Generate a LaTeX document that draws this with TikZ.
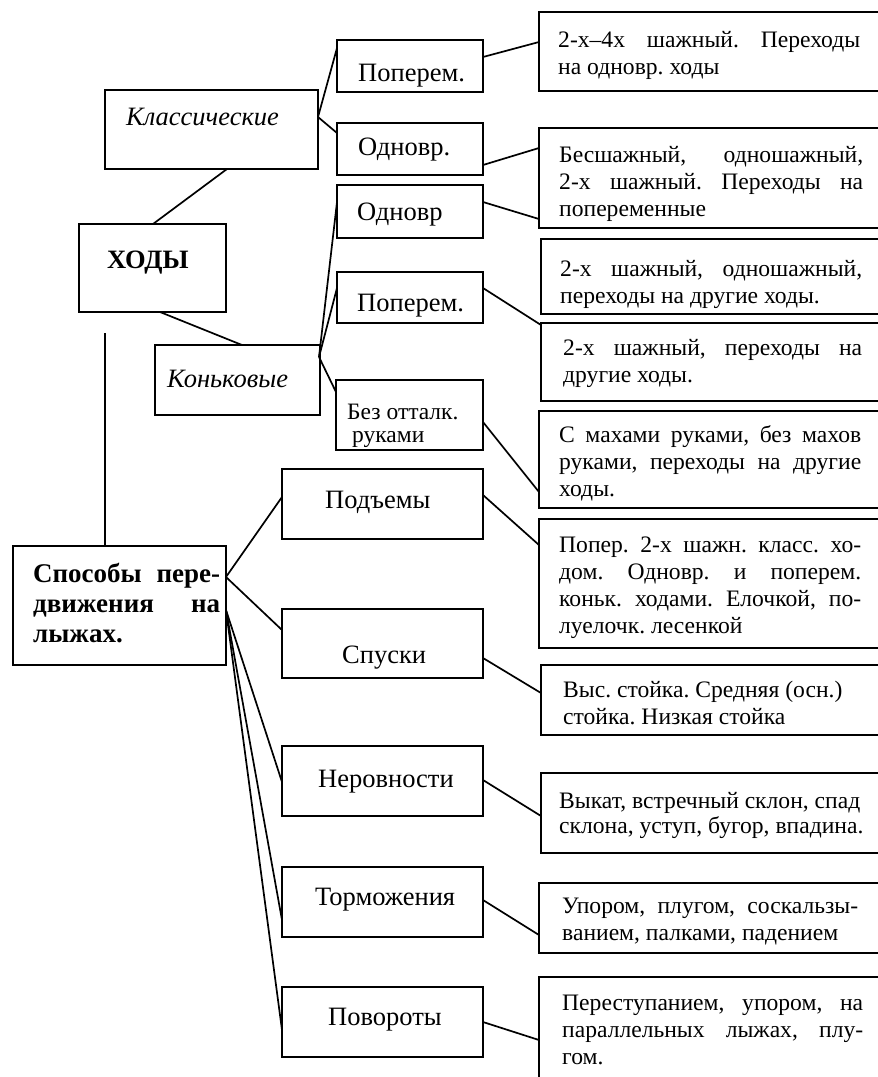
\documentclass[tikz,border=0pt]{standalone}
\usepackage{fontspec}
\setmainfont{Liberation Serif}
\frenchspacing
\newcommand\mkbox[5]{\node[box, minimum width={#4-#2}, minimum height={#5-#3}] (#1) at ({(#2+#4)/2},{(#3+#5)/2}) {};}
\newcommand\jline[2]{\makebox[#1pt][s]{#2}}
\newcommand\rtext[2]{\parbox[t]{#1pt}{\fontsize{23.6}{27}\selectfont\frenchspacing #2}}
\begin{document}
\begin{tikzpicture}[x=1pt,y=-1pt,
  box/.style={draw, line width=1.8pt, rectangle, inner sep=0pt, outer sep=0pt},
  ln/.style={line width=1.7pt},
  lbl/.style={inner sep=0pt, anchor=base west, font=\fontsize{26.5}{28}\selectfont}]
\fill[white] (0,0) rectangle (878,1077);
\clip (0,0) rectangle (878,1077);
\useasboundingbox (0,0) rectangle (878,1077);
% left / middle boxes
\mkbox{klass}{105}{90}{318}{169}
\mkbox{hody}{79}{224}{226}{312}
\mkbox{popA}{337}{40}{483}{92}
\mkbox{odnA}{337}{123}{483}{175}
\mkbox{odnB}{337}{185}{483}{238}
\mkbox{popB}{337}{272}{483}{323}
\mkbox{konk}{155}{345}{320}{415}
\mkbox{bez}{336}{380}{483}{450}
\mkbox{pod}{282}{469}{483}{539}
\mkbox{spos}{13}{546}{226}{665}
\mkbox{spusk}{282}{609}{483}{678}
\mkbox{nerov}{282}{746}{483}{816}
\mkbox{torm}{282}{867}{483}{937}
\mkbox{povor}{282}{987}{483}{1057}
% right boxes
\mkbox{rA}{539}{12}{895}{91}
\mkbox{rB}{539}{128}{895}{228}
\mkbox{rC}{541}{239}{895}{314}
\mkbox{rD}{541}{323}{895}{401}
\mkbox{rE}{539}{411}{895}{508}
\mkbox{rF}{539}{519}{895}{648}
\mkbox{rG}{541}{665}{895}{735}
\mkbox{rH}{541}{773}{895}{853}
\mkbox{rI}{539}{883}{895}{953}
\mkbox{rJ}{539}{977}{895}{1095}
% texts
\node[lbl] (klassT) at (126,125) {\itshape Классические};
\node[lbl] (hodyT) at (107,268) {\bfseries ХОДЫ};
\node[lbl] (popAT) at (358,81) {Поперем.};
\node[lbl] (odnAT) at (358,155) {Одновр.};
\node[lbl] (odnBT) at (357,220) {Одновр};
\node[lbl] (popBT) at (357,311) {Поперем.};
\node[lbl] (konkT) at (167,387) {\itshape Коньковые};
\node[lbl] (bezT) at (347,419) {\parbox[t]{130pt}{\fontsize{23.5}{23}\selectfont Без отталк.\\\hspace*{5pt}руками}};
\node[lbl] (podT) at (325,508) {Подъемы};
\node[lbl] (sposT) at (33,582) {\parbox[t]{187pt}{\fontsize{27}{30}\selectfont\bfseries \jline{187}{Способы пере-}\\\jline{187}{движения на}\\лыжах.}};
\node[lbl] (spuskT) at (342,663) {Спуски};
\node[lbl] (nerovT) at (318,787) {Неровности};
\node[lbl] (tormT) at (315,905) {Торможения};
\node[lbl] (povorT) at (328,1025) {Повороты};
\node[lbl] (rAT) at (558,47) {\rtext{302}{\jline{302}{2-х–4х шажный. Переходы}\\на одновр. ходы}};
\node[lbl] (rBT) at (559,162) {\rtext{304}{\jline{304}{Бесшажный, одношажный,}\\\jline{304}{2-х шажный. Переходы на}\\попеременные}};
\node[lbl] (rCT) at (560,276) {\rtext{302}{\jline{302}{2-х шажный, одношажный,}\\переходы на другие ходы.}};
\node[lbl] (rDT) at (563,355) {\rtext{299}{\jline{299}{2-х шажный, переходы на}\\другие ходы.}};
\node[lbl] (rET) at (559,442) {\rtext{302}{\jline{302}{С махами руками, без махов}\\\jline{302}{руками, переходы на другие}\\ходы.}};
\node[lbl] (rFT) at (559,552) {\rtext{302}{\jline{302}{Попер. 2-х шажн. класс. хо-}\\\jline{302}{дом. Одновр. и поперем.}\\\jline{302}{коньк. ходами. Елочкой, по-}\\луелочк. лесенкой}};
\node[lbl] (rGT) at (563,697) {\rtext{310}{Выс. стойка. Средняя (осн.)\\стойка. Низкая стойка}};
\node[lbl] (rHT) at (559,808) {\parbox[t]{320pt}{\fontsize{23.6}{25}\selectfont\frenchspacing Выкат, встречный склон, спад\\склона, уступ, бугор, впадина.}};
\node[lbl] (rIT) at (562,913) {\rtext{296}{\jline{296}{Упором, плугом, соскальзы-}\\ванием, палками, падением}};
\node[lbl] (rJT) at (562,1010) {\rtext{301}{\jline{301}{Переступанием, упором, на}\\\jline{301}{параллельных лыжах, плу-}\\гом.}};
% connectors
\draw[ln] (klass.east |- 0,117) -- (popA.west |- 0,48);
\draw[ln] (klass.east |- 0,117) -- (odnA.west |- 0,133);
\draw[ln] (klass.south -| 227,0) -- (hody.north -| 153,0);
\draw[ln] (hody.south -| 160,0) -- (konk.north -| 242,0);
\coordinate (vtop) at (105,333);
\draw[ln] (vtop) -- (spos.north -| vtop);
\coordinate (kf) at (319,357);
\draw[ln] (kf) -- (odnB.west |- 0,202);
\draw[ln] (kf) -- (popB.west |- 0,288);
\draw[ln] (kf) -- (bez.west |- 0,392);
\draw[ln] (popA.east |- 0,57) -- (rA.west |- 0,42);
\draw[ln] (odnA.east |- 0,165) -- (rB.west |- 0,148);
\draw[ln] (odnB.east |- 0,202) -- (rB.west |- 0,219);
\draw[ln] (popB.east |- 0,288) -- (rD.west |- 0,325);
\draw[ln] (bez.east |- 0,422) -- (rE.west |- 0,492);
\draw[ln] (pod.east |- 0,495) -- (rF.west |- 0,545);
\draw[ln] (spusk.east |- 0,658) -- (rG.west |- 0,693);
\draw[ln] (nerov.east |- 0,780) -- (rH.west |- 0,816);
\draw[ln] (torm.east |- 0,900) -- (rI.west |- 0,935);
\draw[ln] (povor.east |- 0,1022) -- (rJ.west |- 0,1040);
\draw[ln] (spos.east |- 0,577) -- (pod.west |- 0,497);
\draw[ln] (spos.east |- 0,577) -- (spusk.west |- 0,630);
\draw[ln] (spos.east |- 0,610) -- (nerov.west |- 0,782);
\draw[ln] (spos.east |- 0,610) -- (torm.west |- 0,920);
\draw[ln] (spos.east |- 0,610) -- (povor.west |- 0,1030);
\end{tikzpicture}
\end{document}
